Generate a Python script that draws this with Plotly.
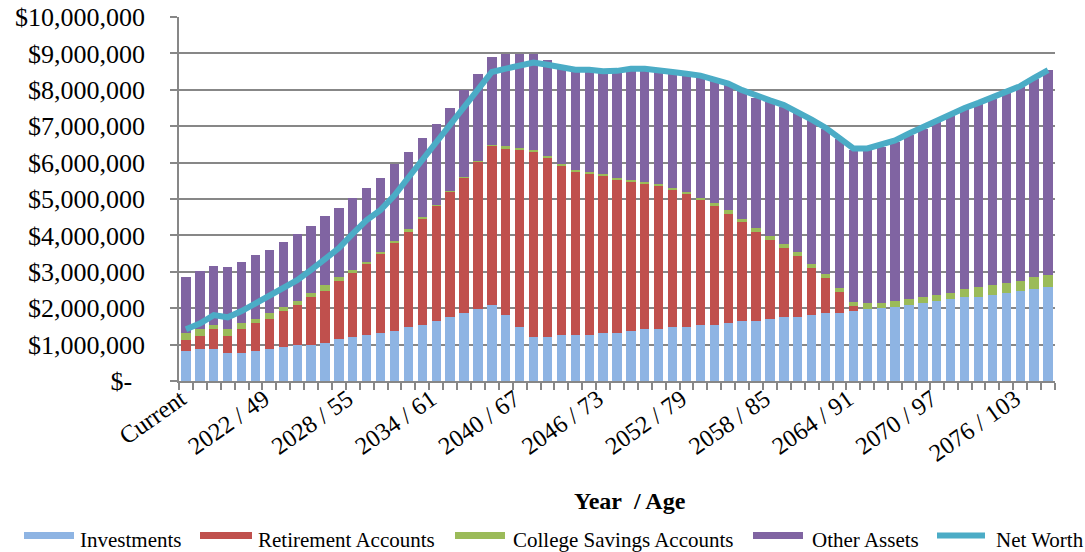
import plotly.graph_objects as go

# Category labels: "Current" followed by "Year / Age"
labels = ["Current"] + [f"{y} / {a}" for y, a in zip(range(2017, 2079), range(44, 106))]

# Asset balances by year, in thousands of dollars
investments = [
    820, 880, 880, 770, 770, 820, 880, 930, 990, 990,
    1040, 1150, 1210, 1260, 1320, 1370, 1480, 1540, 1650, 1760,
    1870, 1980, 2090, 1810, 1480, 1210, 1210, 1260, 1260, 1260,
    1320, 1320, 1370, 1430, 1430, 1480, 1480, 1540, 1540, 1590,
    1650, 1650, 1700, 1760, 1760, 1810, 1870, 1870, 1920, 1980,
    2010, 2030, 2090, 2140, 2200, 2250, 2310, 2310, 2360, 2420,
    2470, 2530, 2580,
]
retirement = [
    320, 370, 540, 480, 650, 760, 810, 980, 1090, 1310,
    1420, 1590, 1750, 1970, 2180, 2410, 2640, 2900, 3170, 3450,
    3720, 4050, 4380, 4590, 4870, 5080, 4920, 4650, 4490, 4430,
    4320, 4210, 4100, 3990, 3930, 3770, 3660, 3440, 3270, 3000,
    2720, 2450, 2180, 1900, 1680, 1300, 970, 580, 150, 0,
    0, 0, 0, 0, 0, 0, 0, 0, 0, 0,
    0, 0, 0,
]
college = [
    170, 170, 120, 170, 160, 110, 170, 110, 110, 110,
    170, 110, 100, 50, 40, 60, 50, 60, 20, 10,
    15, 10, 10, 50, 50, 60, 50, 60, 50, 60,
    50, 50, 60, 50, 60, 60, 60, 50, 70, 110,
    70, 110, 110, 110, 110, 110, 110, 110, 110, 150,
    120, 170, 160, 170, 160, 170, 220, 270, 270, 270,
    270, 320, 330,
]
other_assets = [
    1540, 1590, 1630, 1700, 1700, 1760, 1750, 1810, 1860, 1860,
    1910, 1910, 1970, 2030, 2050, 2130, 2120, 2180, 2220, 2270,
    2400, 2400, 2430, 2530, 2580, 2630, 2630, 2650, 2750, 2800,
    2810, 2920, 3030, 3090, 3110, 3160, 3220, 3330, 3370, 3430,
    3540, 3570, 3670, 3750, 3810, 3940, 3980, 4100, 4160, 4210,
    4300, 4370, 4500, 4620, 4760, 4880, 4930, 5020, 5130, 5220,
    5340, 5460, 5630,
]
net_worth = [
    1420, 1580, 1810, 1750, 1920, 2130, 2310, 2520, 2770, 3050,
    3340, 3650, 4050, 4420, 4700, 5100, 5590, 6080, 6560, 7040,
    7520, 8010, 8490, 8580, 8650, 8750, 8690, 8610, 8550, 8550,
    8510, 8520, 8580, 8580, 8550, 8490, 8440, 8390, 8280, 8170,
    7990, 7830, 7710, 7580, 7390, 7180, 6960, 6690, 6390, 6390,
    6520, 6610, 6800, 6980, 7160, 7350, 7500, 7640, 7790, 7940,
    8100, 8330, 8540,
]

y_ticks = list(range(0, 10_000_001, 1_000_000))
y_tick_text = ["$-\u00a0\u00a0"] + [f"${v:,}" for v in y_ticks[1:]]

K = 1000
FONT = "Liberation Serif, Times New Roman, serif"
GRID = "#878787"

series = [
    ("Investments", investments, "#8EB4E3"),
    ("Retirement Accounts", retirement, "#C0504D"),
    ("College Savings Accounts", college, "#9BBB59"),
    ("Other Assets", other_assets, "#8064A2"),
]
LINE_COLOR = "#4BACC6"

fig = go.Figure()
for name, vals, color in series:
    fig.add_trace(go.Bar(
        x=labels, y=[v * K for v in vals], name=name,
        marker=dict(color=color, line=dict(width=0)),
        showlegend=False,
    ))
fig.add_trace(go.Scatter(
    x=labels, y=[v * K for v in net_worth], name="Net Worth",
    mode="lines", line=dict(color=LINE_COLOR, width=6),
    showlegend=False,
))

# Plot area in pixels
W, H = 1085, 552
L, R, T, B = 179, 30, 17, 171
pw, ph = W - L - R, H - T - B


def px_x(x):
    return (x - L) / pw


def px_y(y):
    return (H - B - y) / ph


# Legend drawn underneath the axis title
legend_items = [
    ("Investments", "#8EB4E3", 24, 74, 78, "bar"),
    ("Retirement Accounts", "#C0504D", 200, 252, 256, "bar"),
    ("College Savings Accounts", "#9BBB59", 455, 505, 511, "bar"),
    ("Other Assets", "#8064A2", 753, 803, 810, "bar"),
    ("Net Worth", LINE_COLOR, 937, 985, 994, "line"),
]
shapes = []
annotations = []
for text, color, x0, x1, tx, kind in legend_items:
    if kind == "bar":
        shapes.append(dict(
            type="rect", xref="paper", yref="paper",
            x0=px_x(x0), x1=px_x(x1), y0=px_y(539), y1=px_y(532),
            fillcolor=color, line=dict(width=0),
        ))
    else:
        shapes.append(dict(
            type="line", xref="paper", yref="paper",
            x0=px_x(x0), x1=px_x(x1), y0=px_y(535.5), y1=px_y(535.5),
            line=dict(color=color, width=6),
        ))
    annotations.append(dict(
        text=text, xref="paper", yref="paper",
        x=px_x(tx), y=px_y(540), xanchor="left", yanchor="middle",
        showarrow=False, font=dict(family=FONT, size=21, color="#000"),
    ))

annotations.append(dict(
    text="<b>Year\u00a0 / Age</b>", xref="paper", yref="paper",
    x=px_x(630), y=px_y(501), xanchor="center", yanchor="middle",
    showarrow=False, font=dict(family=FONT, size=24, color="#000"),
))

fig.update_layout(
    width=W, height=H,
    margin=dict(l=L, r=R, t=T, b=B, pad=0, autoexpand=False),
    barmode="stack", bargap=0.33,
    plot_bgcolor="white", paper_bgcolor="white",
    font=dict(family=FONT, color="#000"),
    shapes=shapes, annotations=annotations,
    showlegend=False,
)
# Every sixth category is labelled; a trailing space nudges each label off its tick
fig.update_xaxes(
    type="category", automargin=False,
    tickmode="array", tickvals=labels,
    ticktext=[lab + "\u00a0" if i % 6 == 0 else "" for i, lab in enumerate(labels)],
    tickson="boundaries", ticks="outside", ticklen=7, tickwidth=1.5, tickcolor=GRID,
    tickangle=-35, tickfont=dict(family=FONT, size=24.5, color="#000"),
    ticklabelstandoff=-11,
    showline=True, linecolor=GRID, linewidth=1.5,
    showgrid=False, range=[-0.5, len(labels) - 0.5],
)
fig.update_yaxes(
    range=[0, 10_000_000], automargin=False,
    tickmode="array", tickvals=y_ticks, ticktext=y_tick_text,
    ticks="outside", ticklen=7, tickwidth=1.5, tickcolor=GRID,
    tickfont=dict(family=FONT, size=26, color="#000"),
    ticklabelstandoff=20,
    showline=True, linecolor=GRID, linewidth=1.5,
    showgrid=True, gridcolor=GRID, gridwidth=1.5,
    zeroline=False,
)

fig.write_html("out.html")
